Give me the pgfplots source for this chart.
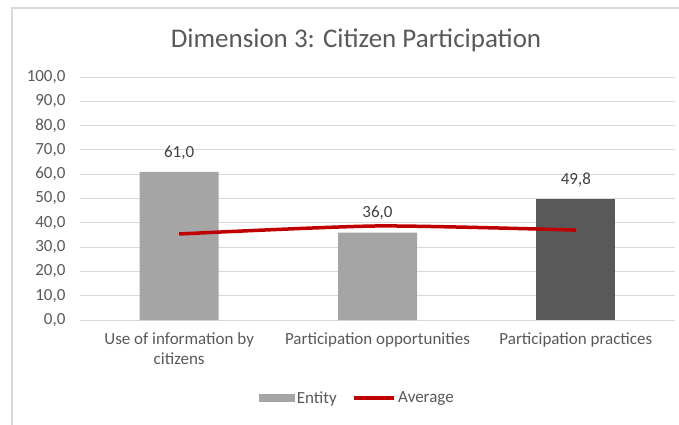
\documentclass[border=0pt]{standalone}
\usepackage{fontspec}
\setmainfont{Carlito}
\usepackage{pgfplots}
\pgfplotsset{compat=1.18}
\definecolor{gridc}{HTML}{D9D9D9}
\definecolor{txt}{HTML}{595959}
\definecolor{lbl}{HTML}{404040}
\definecolor{barA}{HTML}{A5A5A5}
\definecolor{barB}{HTML}{595959}
\definecolor{avg}{HTML}{C00000}
\begin{document}
\begin{tikzpicture}
\useasboundingbox (0pt,0pt) rectangle (679pt,424pt);
\begin{scope}
\clip (0pt,0pt) rectangle (679pt,424pt);
\draw[gridc, line width=1.2pt] (12pt,-20pt) rectangle (720pt,416pt);
\end{scope}
\node[text=txt, font=\fontsize{27}{31}\selectfont] at (356pt,384pt) {Dimension 3: Citizen Participation};
\begin{axis}[
  at={(80pt,104pt)}, anchor=south west, scale only axis,
  width=595pt, height=243pt,
  xmin=-0.5, xmax=2.5, ymin=0, ymax=100,
  ytick={0,10,...,100},
  xtick={0,1,2},
  xticklabels={{Use of information by\\citizens},{Participation opportunities},{Participation practices}},
  axis line style={draw=none},
  major tick length=0pt,
  ymajorgrids,
  major grid style={gridc, line width=1pt},
  ticklabel style={text=txt, font=\fontsize{17}{20}\selectfont},
  xticklabel style={align=center, yshift=-9pt},
  yticklabel style={xshift=-11pt, /pgf/number format/.cd, fixed, fixed zerofill, precision=1, use comma, assume math mode=true},
  legend style={at={(0.466,-0.321)}, anchor=center, draw=none, fill=none, legend columns=2,
    font=\fontsize{17}{20}\selectfont, text=txt,
    /tikz/every even column/.append style={column sep=14pt}},
  nodes near coords style={text=lbl, font=\fontsize{17}{20}\selectfont, anchor=south, yshift=9pt,
    /pgf/number format/.cd, fixed, fixed zerofill, precision=1, use comma, assume math mode=true},
]
\addplot[ybar, bar shift=0pt, bar width=79pt, fill=barA, draw=none, nodes near coords,
  legend image code/.code={\fill[barA] (0pt,-4pt) rectangle (36pt,4pt);}]
  coordinates {(0,61.0) (1,36.0)};
\addlegendentry{Entity}
\addplot[ybar, bar shift=0pt, bar width=79pt, fill=barB, draw=none, nodes near coords, forget plot]
  coordinates {(2,49.8)};
\addplot[avg, line width=3.5pt, smooth, tension=0.4, mark=none,
  legend image code/.code={\draw[avg, line width=3.5pt] (0pt,0pt) -- (40pt,0pt);}]
  coordinates {(0,35.4) (1,38.7) (2,37.0)};
\addlegendentry{Average}
\end{axis}
\end{tikzpicture}
\end{document}
